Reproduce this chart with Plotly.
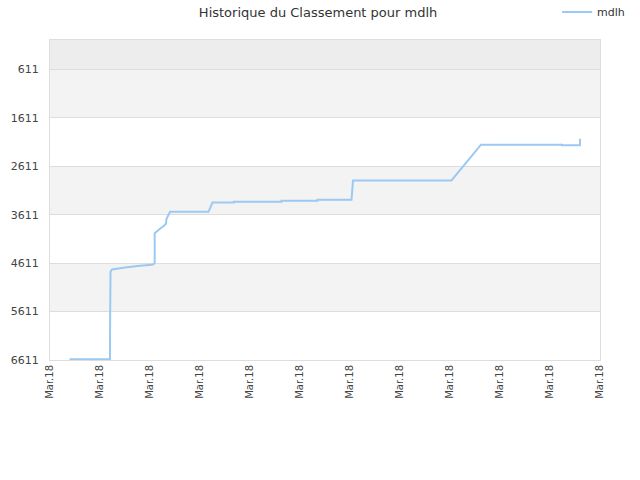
import plotly.graph_objects as go

# position en jours (1 unité = 1 graduation), classement
jours = [0.39, 1.20, 1.20, 1.21, 1.24, 1.34, 1.50, 1.80, 2.04, 2.08, 2.094, 2.094,
         2.12, 2.20, 2.28, 2.32, 2.33, 2.40, 3.17, 3.25, 3.68, 3.68, 4.63, 4.63,
         5.35, 5.35, 6.03, 6.04, 6.06, 8.03, 8.62, 10.24, 10.24, 10.60, 10.60]
classement = [6597, 6597, 6135, 4784, 4739, 4722, 4701, 4666, 4645, 4625, 4598, 3990,
              3963, 3901, 3839, 3791, 3694, 3549, 3549, 3357, 3357, 3342, 3342, 3321,
              3321, 3301, 3301, 3100, 2901, 2901, 2163, 2163, 2173, 2173, 2039]

y_ticks = [611, 1611, 2611, 3611, 4611, 5611, 6611]
x_ticks = list(range(12))
x_labels = ["Mar.18"] * 12

bandes = [(0, 611, "#ededed"), (611, 1611, "#f3f3f3"), (1611, 2611, "#ffffff"),
          (2611, 3611, "#f3f3f3"), (3611, 4611, "#ffffff"), (4611, 5611, "#f3f3f3"),
          (5611, 6611, "#ffffff")]

fig = go.Figure()
fig.add_trace(go.Scatter(x=jours, y=classement, mode="lines", name="mdlh",
                         line=dict(color="#9cc9f3", width=2)))

for y0, y1, c in bandes:
    fig.add_shape(type="rect", xref="paper", yref="y", x0=0, x1=1, y0=y0, y1=y1,
                  fillcolor=c, line_width=0, layer="below")

fig.update_layout(
    width=640, height=480,
    margin=dict(l=50, r=40, t=40, b=120, autoexpand=False),
    paper_bgcolor="white", plot_bgcolor="white",
    font=dict(family="DejaVu Sans", size=11, color="#444"),
    title=dict(text="Historique du Classement pour mdlh", x=0.497, xref="container",
               y=0.975, yref="container", yanchor="middle",
               font=dict(size=13, color="#333")),
    showlegend=True,
    legend=dict(x=0.922, xref="paper", y=0.975, yref="container", xanchor="left",
                yanchor="middle", itemwidth=30,
                font=dict(size=11, color="#333"), bgcolor="rgba(0,0,0,0)"),
    xaxis=dict(range=[0, 11], tickvals=x_ticks, ticktext=x_labels, tickangle=-90,
               showgrid=False, zeroline=False, showline=True, mirror=True,
               linecolor="#dddddd", automargin=False,
               tickfont=dict(size=10, color="#444")),
    yaxis=dict(range=[6611, 0], tickvals=y_ticks, showgrid=True, gridcolor="#dddddd",
               zeroline=False, showline=True, mirror=True, linecolor="#dddddd",
               automargin=False, tickfont=dict(size=11, color="#444"),
               ticklabelstandoff=8),
)

# pas de marge autour de la figure dans la page, pas de barre d'outils
fig.write_html("out.html", config={"displayModeBar": False},
               post_script="document.body.style.margin = '0';")
